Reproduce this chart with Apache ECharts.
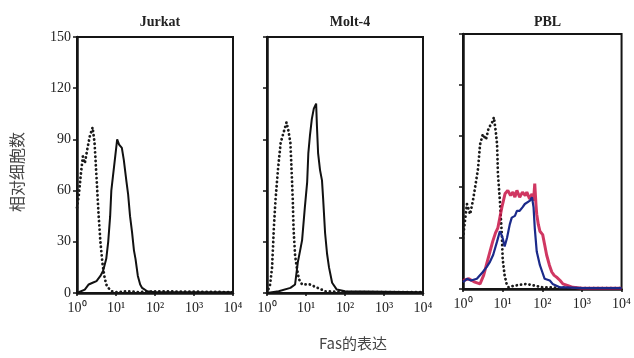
<!DOCTYPE html>
<html><head><meta charset="utf-8">
<script src="https://cdn.jsdelivr.net/npm/echarts@6/dist/echarts.min.js"></script>
<style>html,body{margin:0;padding:0;background:#fff}#c{width:634px;height:358px}</style>
</head><body><div id="c"></div>
<script>
// x = log10(Fas intensity), y = relative cell count
const panelTitles = ['Jurkat', 'Molt-4', 'PBL'];
const xTickLabels = ['10⁰', '10¹', '10²', '10³', '10⁴'];
const yTicks = [0, 30, 60, 90, 120, 150];

const jurkatCtrl = [[0,50],[0.05,58],[0.1,70],[0.15,80],[0.2,76],[0.27,85],[0.33,92],[0.4,97],[0.45,88],[0.5,68],[0.55,47],[0.6,30],[0.65,18],[0.7,10],[0.75,5],[0.8,3],[0.9,1],[1.0,0.5],[1.3,1],[1.6,0.5],[2,1],[4,0.5]];
const jurkatFas = [[0,0],[0.2,2],[0.3,5],[0.4,6],[0.5,7],[0.6,10],[0.67,13],[0.75,20],[0.8,30],[0.85,45],[0.88,60],[0.92,68],[0.97,78],[1.03,90],[1.08,87],[1.15,85],[1.2,78],[1.27,65],[1.31,58],[1.36,45],[1.41,36],[1.46,25],[1.5,20],[1.56,10],[1.62,5],[1.67,3],[1.8,1],[2.0,0.5],[4,0.5]];

const moltCtrl = [[0,0],[0.08,5],[0.13,15],[0.18,40],[0.22,55],[0.28,72],[0.35,88],[0.45,96],[0.5,100],[0.55,95],[0.6,88],[0.63,72],[0.66,55],[0.68,38],[0.72,22],[0.77,14],[0.82,8],[0.9,5],[1.1,5],[1.3,3],[1.5,1],[2,0.5],[4,0.5]];
const moltFas = [[0,0],[0.3,1],[0.6,3],[0.72,5],[0.79,18],[0.85,25],[0.9,31],[0.97,50],[1.03,65],[1.06,82],[1.1,92],[1.15,102],[1.2,108],[1.26,111],[1.28,98],[1.31,82],[1.36,72],[1.41,66],[1.44,55],[1.49,35],[1.54,23],[1.59,15],[1.67,6],[1.79,2],[2,1],[4,0.5]];

const pblCtrl = [[0,30],[0.05,40],[0.1,50],[0.18,44],[0.25,52],[0.32,62],[0.38,71],[0.43,85],[0.5,91],[0.58,88],[0.65,95],[0.72,97],[0.78,101],[0.83,92],[0.86,85],[0.88,68],[0.93,52],[0.98,32],[1.0,18],[1.05,8],[1.1,3],[1.15,1],[1.3,2],[1.6,3],[2,1],[3,0.5],[4,0.5]];
const pblRed = [[0,5],[0.15,6],[0.3,4],[0.43,3],[0.52,8],[0.6,15],[0.68,22],[0.75,28],[0.82,33],[0.88,36],[0.93,42],[0.98,48],[1.02,52],[1.06,56],[1.13,58],[1.2,55],[1.26,57],[1.31,54],[1.36,58],[1.43,54],[1.5,57],[1.57,55],[1.61,57],[1.68,53],[1.74,56],[1.78,52],[1.81,62],[1.84,50],[1.86,44],[1.9,38],[1.94,34],[2.01,32],[2.06,26],[2.11,20],[2.18,14],[2.24,10],[2.3,8],[2.36,7],[2.45,5],[2.52,3],[2.65,2],[2.77,1],[3,0.5],[4,0.5]];
const pblBlue = [[0,4],[0.1,6],[0.2,5],[0.35,6],[0.5,10],[0.6,13],[0.68,16],[0.76,20],[0.86,28],[0.93,34],[0.97,32],[1.0,30],[1.05,25],[1.11,30],[1.18,38],[1.23,42],[1.31,43],[1.36,46],[1.43,46],[1.5,48],[1.56,50],[1.61,49],[1.69,52],[1.74,54],[1.78,48],[1.81,36],[1.86,22],[1.94,14],[2.0,10],[2.06,6],[2.19,5],[2.26,3],[2.44,1],[2.6,1],[3,0.5],[4,0.5]];

const chart = echarts.init(document.getElementById('c'), null, {renderer: 'canvas'});
const grids = [
  {left: 77, top: 37, width: 156, height: 256},
  {left: 267, top: 37, width: 156, height: 256},
  {left: 463, top: 34, width: 159, height: 255}
].map(g => Object.assign(g, {show: true, borderColor: '#151515', borderWidth: 2, backgroundColor: 'transparent'}));

const serif = 'Liberation Serif';
const xAxes = grids.map((g, i) => ({
  gridIndex: i, type: 'value', min: 0, max: 4, interval: 1,
  axisLine: {show: true, lineStyle: {color: '#151515', width: 2.5}},
  axisTick: {show: true, length: 3, lineStyle: {color: '#151515', width: 1.5}},
  splitLine: {show: false},
  axisLabel: {show: true, margin: 8, fontFamily: serif, fontSize: 14, color: '#222',
    formatter: v => xTickLabels[v]}
}));
const yAxes = grids.map((g, i) => ({
  gridIndex: i, type: 'value', min: 0, max: 150, interval: 30,
  axisLine: {show: true, lineStyle: {color: '#151515', width: 2.5}},
  axisTick: {show: true, length: 4, lineStyle: {color: '#151515', width: 1.5}},
  splitLine: {show: false},
  axisLabel: {show: i === 0, margin: 6, fontFamily: serif, fontSize: 14, color: '#222',
    formatter: v => yTicks.includes(v) ? String(v) : ''}
}));

const dotted = {color: '#1a1a1a', width: 2.8, type: [0.1, 4.2], cap: 'round'};
const solid = {color: '#111', width: 2};
function ser(i, data, ls, z) {
  return {type: 'line', xAxisIndex: i, yAxisIndex: i, data, showSymbol: false, lineStyle: ls, z: z || 2, animation: false};
}
const series = [
  ser(0, jurkatCtrl, dotted), ser(0, jurkatFas, solid),
  ser(1, moltCtrl, dotted), ser(1, moltFas, solid),
  ser(2, pblCtrl, dotted),
  ser(2, pblRed, {color: 'rgba(200,20,70,0.85)', width: 3}, 3),
  ser(2, pblBlue, {color: '#1b2a8a', width: 2.2}, 4)
];

const titles = panelTitles.map((t, i) => ({
  text: t, left: grids[i].left + grids[i].width / 2, top: 10, textAlign: 'center',
  textStyle: {fontFamily: serif, fontWeight: 'bold', fontSize: 14, color: '#222'}
}));

chart.setOption({
  animation: false,
  title: titles,
  grid: grids, xAxis: xAxes, yAxis: yAxes, series,
  graphic: [
    {type: 'text', x: 17, y: 172, rotation: Math.PI / 2,
      style: {text: '相对细胞数', font: '16px "Noto Sans CJK SC"', fill: '#444', align: 'center', verticalAlign: 'middle'}},
    {type: 'text', x: 353, y: 343,
      style: {text: 'Fas的表达', font: '15px "Noto Sans CJK SC"', fill: '#444', align: 'center', verticalAlign: 'middle'}}
  ]
});
</script></body></html>
